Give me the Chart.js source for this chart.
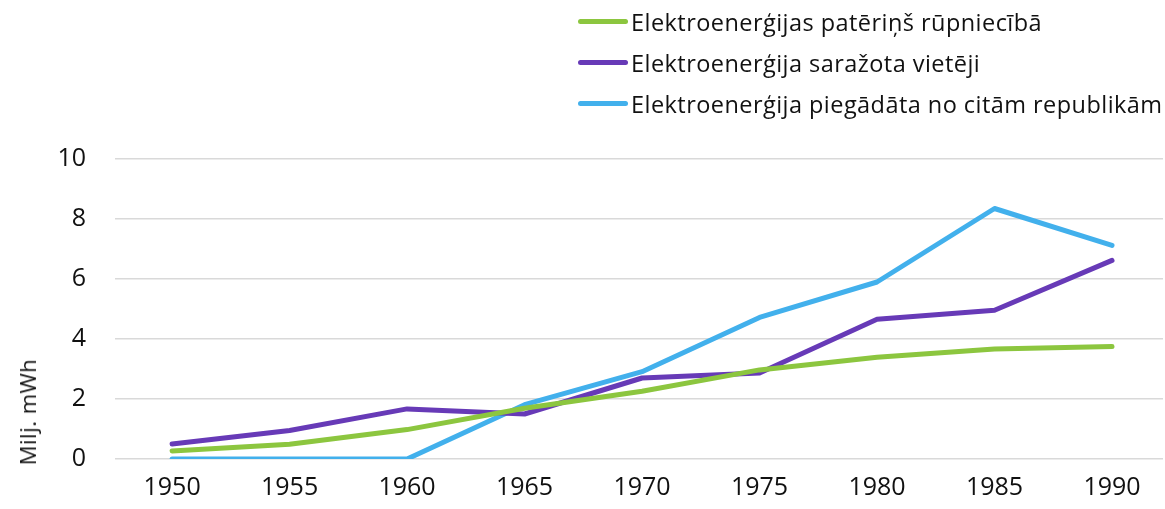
<!DOCTYPE html>
<html>
<head>
<meta charset="utf-8">
<script src="https://cdn.jsdelivr.net/npm/chart.js@4/dist/chart.umd.min.js"></script>
<style>
    html, body { margin: 0; padding: 0; background: #fff; overflow: hidden; }
    #wrap { position: relative; width: 1165px; height: 509px; font-family: "Open Sans", sans-serif; color: #111; }
    #chart { position: absolute; left: 0; top: 0; }
    #legend { position: absolute; left: 578px; top: 1px; }
    .legend-item { display: flex; align-items: center; height: 41px; font-size: 23.5px; letter-spacing: 0.45px; white-space: nowrap; }
    .legend-line { width: 50px; height: 5px; border-radius: 3px; margin-right: 3px; }
    #ytitle { position: absolute; left: 27px; top: 412px; transform: translate(-50%, -50%) rotate(-90deg); font-size: 22px; letter-spacing: 0.5px; white-space: nowrap; }
</style>
</head>
<body>
<div id="wrap">
    <canvas id="chart" width="1165" height="509"></canvas>
    <div id="legend"></div>
    <div id="ytitle">Milj. mWh</div>
</div>
<script>
const YEARS = [1950, 1955, 1960, 1965, 1970, 1975, 1980, 1985, 1990];

const SERIES_LABELS = [
    'Elektroenerģijas patēriņš rūpniecībā',
    'Elektroenerģija saražota vietēji',
    'Elektroenerģija piegādāta no citām republikām',
];

const industryUse = [0.27, 0.49, 0.98, 1.69, 2.26, 2.97, 3.39, 3.67, 3.75];
const producedLocally = [0.5, 0.95, 1.67, 1.5, 2.70, 2.87, 4.66, 4.96, 6.62];
const supplied = [0, 0, 0, 1.81, 2.91, 4.72, 5.90, 8.35, 7.12];

const Y_TICKS = [0, 2, 4, 6, 8, 10];

const COLORS = ['#8cc63f', '#673ab7', '#42b0ec'];

function toPoints(values) {
    return values.map((v, i) => ({ x: YEARS[i], y: v }));
}

const seriesValues = [industryUse, producedLocally, supplied];

const datasets = seriesValues.map((vals, i) => ({
    label: SERIES_LABELS[i],
    data: toPoints(vals),
    borderColor: COLORS[i],
    backgroundColor: COLORS[i],
    borderWidth: 5,
    borderCapStyle: 'round',
    borderJoinStyle: 'round',
    pointRadius: 0,
    tension: 0,
    fill: false,
}));

// legend drawn as html, stacked vertically like the original
const legend = document.getElementById('legend');
SERIES_LABELS.forEach((label, i) => {
    const item = document.createElement('div');
    item.className = 'legend-item';
    item.innerHTML = `<div class="legend-line" style="background:${COLORS[i]}"></div><span>${label}</span>`;
    legend.appendChild(item);
});

new Chart(document.getElementById('chart'), {
    type: 'line',
    data: { datasets },
    options: {
        responsive: false,
        animation: false,
        layout: { padding: { top: 159, left: 0, right: 2, bottom: 0 } },
        plugins: {
            legend: { display: false },
            tooltip: { enabled: false },
        },
        scales: {
            x: {
                type: 'linear',
                min: 1947.57,
                max: 1992.17,
                afterBuildTicks: axis => { axis.ticks = YEARS.map(v => ({ value: v })); },
                afterFit: axis => { axis.height = 50; },
                ticks: {
                    color: '#111',
                    font: { family: 'Open Sans', size: 25 },
                    padding: 14,
                    maxRotation: 0,
                    callback: v => String(v),
                },
                grid: { display: false, drawTicks: false },
                border: { display: false },
            },
            y: {
                min: 0,
                max: 10,
                afterBuildTicks: axis => { axis.ticks = Y_TICKS.map(v => ({ value: v })); },
                afterFit: axis => { axis.width = 115; },
                ticks: {
                    color: '#111',
                    font: { family: 'Open Sans', size: 25 },
                    padding: 29,
                },
                grid: { color: '#d9d9d9', lineWidth: 1.5, drawTicks: false },
                border: { display: false },
            },
        },
    },
});
</script>
</body>
</html>
